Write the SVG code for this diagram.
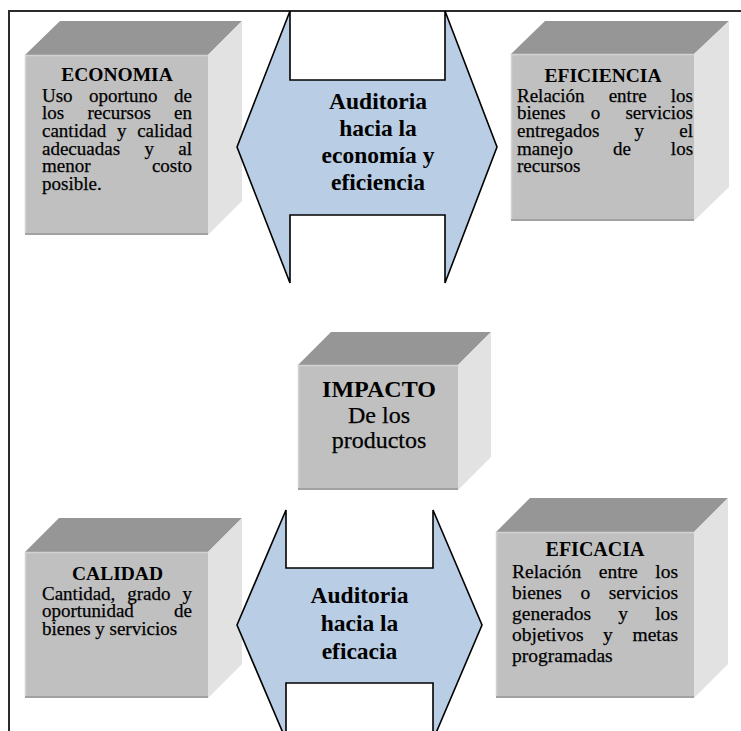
<svg xmlns="http://www.w3.org/2000/svg" width="741" height="731" viewBox="0 0 741 731">
<style>
  .bg{fill:#ffffff}
  .frame{fill:none;stroke:#2b2b2b;stroke-width:2}
  .top{fill:#969696}
  .front{fill:#c0c0c0}
  .side{fill:#e2e2e2}
  .lip{stroke:#a2a2a2;stroke-width:2;fill:none}
  .hl{stroke:#d2d2d2;stroke-width:1.5;fill:none}
  .arrow{fill:#b9cde4;stroke:#000000;stroke-width:1.6;stroke-linejoin:miter}
  text{font-family:"Liberation Serif","Times New Roman",serif;fill:#000000}
  .t{font-size:19.5px;font-weight:bold;text-anchor:middle}
  .b{font-size:19px;stroke:#000000;stroke-width:0.25px}
  .t2{font-size:20px;font-weight:bold;text-anchor:middle}
  .b2{font-size:19.5px;stroke:#000000;stroke-width:0.25px}
  .ct{font-size:24px;font-weight:bold;text-anchor:middle}
  .cb{font-size:24px;text-anchor:middle;stroke:#000000;stroke-width:0.25px}
  .at{font-size:23.5px;font-weight:bold;text-anchor:middle}
</style>
<rect class="bg" x="0" y="0" width="741" height="731"/>
<path class="frame" d="M9,731 V11 H741"/>

<g id="economia">
  <polygon class="top" points="25,55 60,21 242,21 208,55"/>
  <polygon class="side" points="208,55 242,21 242,201 208,235"/>
  <rect class="front" x="25" y="55" width="183" height="180"/>
  <path class="hl" d="M25.5,234 V55.5 H208"/>
  <path class="lip" d="M25,234 H208"/>
  <text class="t" x="117" y="81">ECONOMIA</text>
  <text class="b" x="42" y="101.5" style="word-spacing:11.65px">Uso oportuno de</text>
  <text class="b" x="42" y="119.2" style="word-spacing:18.55px">los recursos en</text>
  <text class="b" x="42" y="136.9" style="word-spacing:5.9px">cantidad y calidad</text>
  <text class="b" x="42" y="154.6" style="word-spacing:19.6px">adecuadas y al</text>
  <text class="b" x="42" y="172.3" style="word-spacing:56.6px">menor costo</text>
  <text class="b" x="42" y="190">posible.</text>
</g>

<g id="eficiencia">
  <polygon class="top" points="511,54 545,21 729,21 694,54"/>
  <polygon class="side" points="694,54 729,21 729,187 694,221"/>
  <rect class="front" x="511" y="54" width="183" height="167"/>
  <path class="hl" d="M511.5,220 V54.5 H694"/>
  <path class="lip" d="M511,220 H694"/>
  <text class="t" x="603" y="81.5">EFICIENCIA</text>
  <text class="b" x="517" y="101.5" style="word-spacing:19.4px">Relación entre los</text>
  <text class="b" x="517" y="119.2" style="word-spacing:20.45px">bienes o servicios</text>
  <text class="b" x="517" y="136.9" style="word-spacing:30.5px">entregados y el</text>
  <text class="b" x="517" y="154.6" style="word-spacing:35.25px">manejo de los</text>
  <text class="b" x="517" y="172.3">recursos</text>
</g>

<g id="impacto">
  <polygon class="top" points="298,365 331,332 491,332 458,365"/>
  <polygon class="side" points="458,365 491,332 491,457 458,490"/>
  <rect class="front" x="298" y="365" width="160" height="125"/>
  <path class="hl" d="M298.5,489 V365.5 H458"/>
  <path class="lip" d="M298,489 H458"/>
  <text class="ct" x="379" y="397">IMPACTO</text>
  <text class="cb" x="379" y="423">De los</text>
  <text class="cb" x="379" y="448">productos</text>
</g>

<g id="calidad">
  <polygon class="top" points="25,552 59,518 242,518 208,552"/>
  <polygon class="side" points="208,552 242,518 242,664 208,698"/>
  <rect class="front" x="25" y="552" width="183" height="146"/>
  <path class="hl" d="M25.5,697 V552.5 H208"/>
  <path class="lip" d="M25,697 H208"/>
  <text class="t" x="117.5" y="580">CALIDAD</text>
  <text class="b" x="42" y="599.5" style="word-spacing:7.2px">Cantidad, grado y</text>
  <text class="b" x="42" y="617.2" style="word-spacing:35.45px">oportunidad de</text>
  <text class="b" x="42" y="634.9">bienes y servicios</text>
</g>

<g id="eficacia">
  <polygon class="top" points="496,532 530,498 728,498 694,532"/>
  <polygon class="side" points="694,532 728,498 728,664 694,698"/>
  <rect class="front" x="496" y="532" width="198" height="166"/>
  <path class="hl" d="M496.5,697 V532.5 H694"/>
  <path class="lip" d="M496,697 H694"/>
  <text class="t2" x="595" y="556">EFICACIA</text>
  <text class="b2" x="512" y="578" style="word-spacing:12.6px">Relación entre los</text>
  <text class="b2" x="512" y="599" style="word-spacing:13.7px">bienes o servicios</text>
  <text class="b2" x="512" y="620" style="word-spacing:22.3px">generados y los</text>
  <text class="b2" x="512" y="641" style="word-spacing:14.75px">objetivos y metas</text>
  <text class="b2" x="512" y="662">programadas</text>
</g>

<g id="connectors">
  <g id="auditoria-economia-eficiencia">
    <path class="arrow" d="M237,147 L290,11 L290,80 L445,80 L445,11 L497,147 L445,283 L445,215 L290,215 L290,283 Z"/>
    <text class="at" x="378" y="109">Auditoria</text>
    <text class="at" x="378" y="136">hacia la</text>
    <text class="at" x="378" y="163">economía y</text>
    <text class="at" x="378" y="190">eficiencia</text>
  </g>
  <g id="auditoria-eficacia">
    <path class="arrow" d="M237,625 L286,510 L286,568 L433,568 L433,510 L482,625 L433,740 L433,683 L286,683 L286,740 Z"/>
    <text class="at" x="359.5" y="603">Auditoria</text>
    <text class="at" x="359.5" y="631">hacia la</text>
    <text class="at" x="359.5" y="659">eficacia</text>
  </g>
</g>
</svg>
